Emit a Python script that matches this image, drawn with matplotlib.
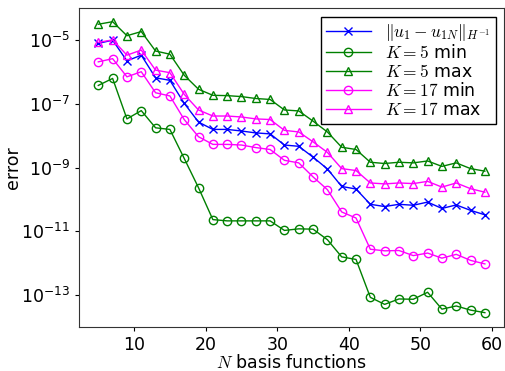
"""
Convergence of the error with the number of basis functions.
Writes out.png (505x371).
"""
import numpy as np
import matplotlib
matplotlib.use("Agg")
import matplotlib.pyplot as plt

N_BASIS = list(range(5, 60, 2))

# log10 of the error
LOG_H1_ERR = [-5.10, -5.00, -5.65, -5.47, -6.18, -6.26, -6.98, -7.57, -7.80, -7.80,
              -7.85, -7.91, -7.94, -8.29, -8.33, -8.67, -9.04, -9.59, -9.67, -10.15,
              -10.22, -10.15, -10.18, -10.08, -10.28, -10.17, -10.34, -10.48]
LOG_K5_MIN = [-6.42, -6.20, -7.47, -7.21, -7.75, -7.80, -8.71, -9.63, -10.63, -10.67,
              -10.67, -10.67, -10.67, -10.97, -10.92, -10.93, -11.26, -11.80, -11.88, -13.07,
              -13.29, -13.12, -13.13, -12.91, -13.44, -13.34, -13.47, -13.55]
LOG_K5_MAX = [-4.50, -4.42, -4.86, -4.73, -5.34, -5.44, -6.10, -6.54, -6.73, -6.74,
              -6.77, -6.83, -6.86, -7.19, -7.22, -7.54, -7.88, -8.36, -8.43, -8.83,
              -8.87, -8.83, -8.85, -8.79, -8.96, -8.85, -9.03, -9.11]
LOG_K17_MIN = [-5.68, -5.58, -6.15, -5.99, -6.65, -6.75, -7.49, -8.03, -8.27, -8.27,
               -8.29, -8.37, -8.43, -8.77, -8.85, -9.29, -9.69, -10.39, -10.58, -11.56,
               -11.61, -11.60, -11.76, -11.68, -11.84, -11.72, -11.91, -12.02]
LOG_K17_MAX = [-5.07, -4.99, -5.47, -5.31, -5.94, -6.02, -6.70, -7.19, -7.38, -7.38,
               -7.41, -7.47, -7.49, -7.83, -7.88, -8.19, -8.52, -9.03, -9.09, -9.48,
               -9.51, -9.48, -9.50, -9.43, -9.61, -9.48, -9.66, -9.77]

Y_TICK_EXP = [-5, -7, -9, -11, -13]
X_TICKS = [10, 20, 30, 40, 50, 60]

SERIES = [
    (LOG_H1_ERR, r"$\Vert u_1 - u_{1N}\Vert_{H^{-1}}$", "#0000ff", "x"),
    (LOG_K5_MIN, r"$K=5$ min", "#008000", "o"),
    (LOG_K5_MAX, r"$K=5$ max", "#008000", "^"),
    (LOG_K17_MIN, r"$K=17$ min", "#ff00ff", "o"),
    (LOG_K17_MAX, r"$K=17$ max", "#ff00ff", "^"),
]


def main():
    plt.rcParams["font.size"] = 12
    plt.rcParams["mathtext.fontset"] = "cm"
    fig = plt.figure(figsize=(5.05, 3.71), dpi=100)
    ax = fig.add_axes([0.1564, 0.1186, 0.842, 0.859])

    for vals, label, color, marker in SERIES:
        ax.plot(N_BASIS, 10.0 ** np.array(vals), color=color, marker=marker,
                mfc="none", mec=color, ms=6, mew=1.0, lw=1.0, label=label)

    ax.set_yscale("log")
    ax.set_ylim(1e-14, 1e-4)
    ax.set_yticks([10.0 ** e for e in Y_TICK_EXP])
    ax.set_yticklabels([r"$\mathregular{10^{%d}}$" % e for e in Y_TICK_EXP])
    ax.minorticks_off()
    ax.set_xticks(X_TICKS)
    ax.tick_params(direction="out", length=3, labelsize=12.5)
    for sp in ax.spines.values():
        sp.set_color("#333333")

    ax.set_xlabel(r"$N$ basis functions", fontsize=12.5, labelpad=0)
    ax.set_ylabel("error", fontsize=12.5)
    ax.yaxis.set_label_coords(-0.134, 0.5)

    leg = ax.legend(loc="upper right", fancybox=False, edgecolor="black",
                    fontsize=12.5, handlelength=2.6, labelspacing=0.05,
                    borderpad=0.3, framealpha=1.0)
    leg.get_frame().set_linewidth(1.0)

    fig.savefig("out.png", dpi=100)
    plt.close(fig)


if __name__ == "__main__":
    main()
